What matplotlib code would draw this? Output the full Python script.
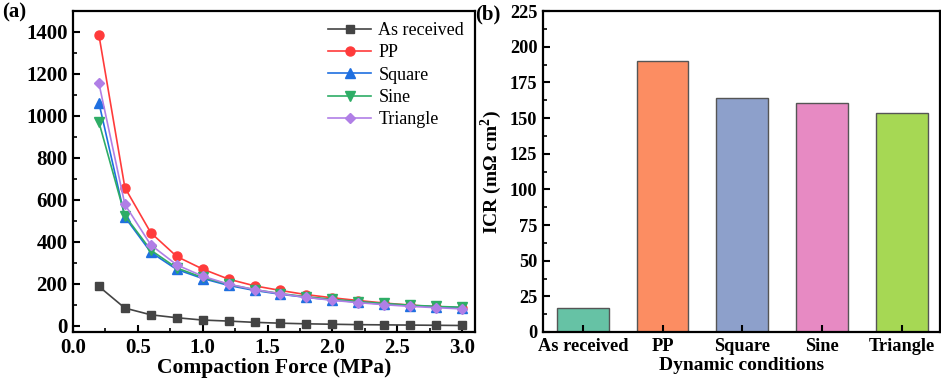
import matplotlib
matplotlib.use("Agg")
import matplotlib.pyplot as plt
from matplotlib.ticker import MultipleLocator

plt.rcParams['font.family'] = ['Liberation Serif', 'DejaVu Serif']
plt.rcParams['font.weight'] = 'bold'
plt.rcParams['mathtext.fontset'] = 'custom'
plt.rcParams['mathtext.rm'] = 'Liberation Serif:bold'
plt.rcParams['mathtext.bf'] = 'Liberation Serif:bold'

force = [0.2, 0.4, 0.6, 0.8, 1.0, 1.2, 1.4, 1.6, 1.8, 2.0, 2.2, 2.4, 2.6, 2.8, 3.0]
as_received = [187, 84, 52, 38, 27, 22, 16, 12, 9, 7, 5, 4, 3, 2, 1]
pp = [1385, 658, 443, 330, 270, 222, 190, 168, 148, 133, 120, 108, 98, 90, 84]
square = [1062, 518, 350, 268, 225, 192, 168, 150, 135, 123, 112, 103, 96, 90, 86]
sine = [970, 525, 360, 275, 230, 197, 172, 153, 138, 126, 115, 106, 98, 92, 88]
triangle = [1155, 578, 385, 290, 236, 198, 172, 152, 135, 121, 110, 100, 92, 86, 80]

conditions = ["As received", "PP", "Square", "Sine", "Triangle"]
icr = [16.8, 190.2, 163.8, 160.2, 153.6]

series = [
    ("As received", as_received, "#444444", "s", 5.5),
    ("PP", pp, "#FF3B3B", "o", 6.5),
    ("Square", square, "#1F6FE0", "^", 7),
    ("Sine", sine, "#2EAD66", "v", 7),
    ("Triangle", triangle, "#B07FE6", "D", 5.5),
]
bar_colors = ["#66c2a5", "#fc8d62", "#8da0cb", "#e78ac3", "#a6d854"]

fig = plt.figure(figsize=(9.41, 3.81), dpi=100)
W, H = 941, 381
ax1 = fig.add_axes([73 / W, 1 - 332 / H, (475 - 73) / W, (332 - 11) / H])
ax2 = fig.add_axes([543 / W, 1 - 332 / H, (940 - 543) / W, (332 - 11) / H])

for name, vals, c, m, ms in series:
    ax1.plot(force, vals, color=c, marker=m, markersize=ms, linewidth=1.2, label=name)

ax1.set_xlim(0, 3.1)
ax1.set_ylim(-30, 1500)
ax1.xaxis.set_major_locator(MultipleLocator(0.5))
ax1.xaxis.set_minor_locator(MultipleLocator(0.25))
ax1.yaxis.set_major_locator(MultipleLocator(200))
ax1.yaxis.set_minor_locator(MultipleLocator(100))
ax1.set_xlabel("Compaction Force (MPa)", fontsize=15.5, fontweight='bold', labelpad=0)
leg = ax1.legend(loc='upper right', frameon=False, prop={'size': 13, 'weight': 'normal'},
                 handlelength=2.4, labelspacing=0.3, borderaxespad=0.2, handletextpad=0.4)

x = range(len(conditions))
ax2.bar(x, icr, width=0.65, color=bar_colors, edgecolor="#555555", linewidth=1.0)
ax2.set_xlim(-0.5, 4.48)
ax2.set_ylim(0, 225)
ax2.set_xticks(list(x))
ax2.set_xticklabels(conditions)
ax2.yaxis.set_major_locator(MultipleLocator(25))
ax2.yaxis.set_minor_locator(MultipleLocator(12.5))
ax2.set_xlabel("Dynamic conditions", fontsize=14, fontweight='bold', labelpad=2)
ax2.set_ylabel(r"ICR (m$\Omega$ cm$^2$)", fontsize=14, fontweight='bold', labelpad=4)

for ax in (ax1, ax2):
    for s in ax.spines.values():
        s.set_linewidth(1.6)
    ax.tick_params(which='both', direction='in', top=False, right=False)
    ax.tick_params(which='major', length=5, width=1.5, pad=4)
    ax.tick_params(which='minor', length=3, width=1.2)
ax1.tick_params(which='major', labelsize=15)
ax2.tick_params(which='major', labelsize=13.2)
ax2.tick_params(axis='x', which='minor', bottom=False)

fig.text(2 / W, 1 - 12 / H, "(a)", fontsize=15, fontweight='bold', va='center', ha='left')
fig.text(475 / W, 1 - 14 / H, "(b)", fontsize=15, fontweight='bold', va='center', ha='left')

fig.savefig("out.png", dpi=100)
